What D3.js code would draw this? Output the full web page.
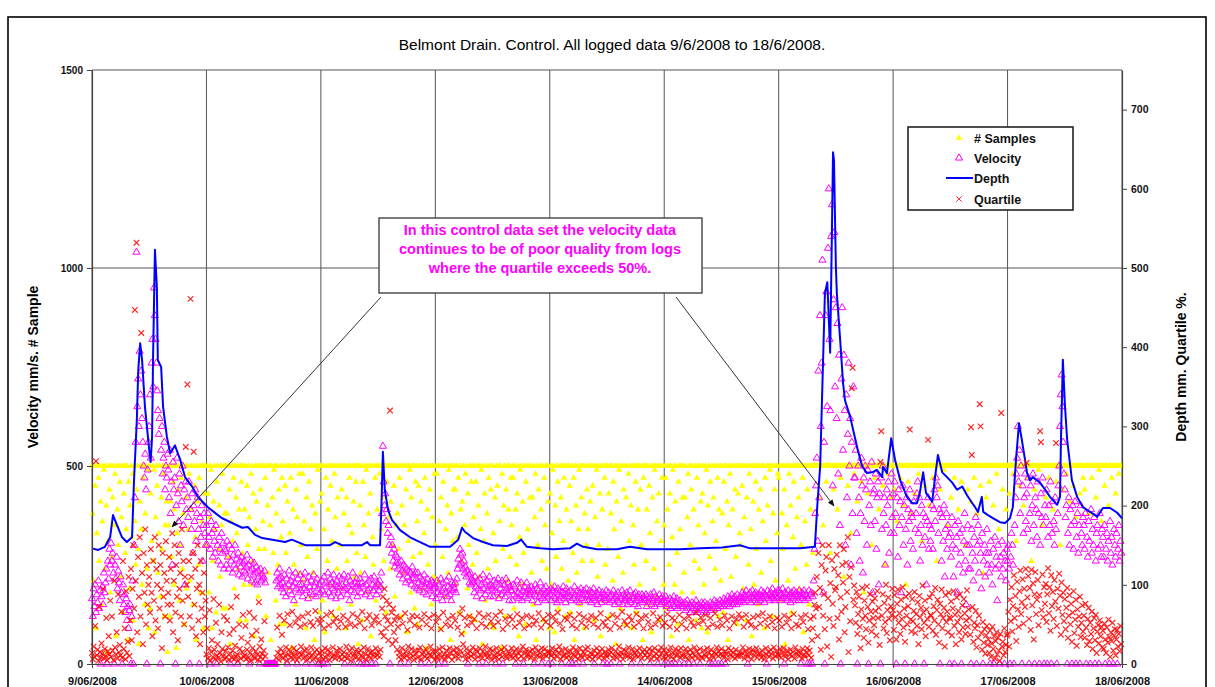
<!DOCTYPE html>
<html>
<head>
<meta charset="utf-8">
<script src="https://cdn.jsdelivr.net/npm/d3@7"></script>
<style>
  html, body { margin: 0; padding: 0; background: #ffffff; }
  svg { display: block; font-family: "Liberation Sans", Arial, sans-serif; }
</style>
</head>
<body>
<svg id="chart" width="1215" height="687"></svg>
<script>
// Logger run: one reading every 10 minutes from 9/6/2008 00:00 to 18/6/2008 00:00
const startTime = new Date(2008, 5, 9, 0, 0);
const endTime = new Date(2008, 5, 18, 0, 0);
const logMinutes = 10;

// Velocity, mm/s (left axis) - 144 logs per day, one row = 4 hours
const velocity = [
  // 9/06
  165,120,190,145,200,130,175,155,210,140,185,0,170,195,150,230,180,205,240,0,260,215,290,250,
  305,260,280,230,0,250,215,270,190,235,205,160,220,180,0,200,150,175,130,165,110,145,90,135,
  150,0,120,210,0,300,420,560,1040,650,720,600,790,680,740,620,560,500,470,530,440,0,490,560,
  600,680,520,760,820,700,950,880,820,760,690,640,580,620,0,540,600,480,520,560,440,500,470,530,
  490,420,540,380,460,250,510,440,470,0,400,520,430,360,480,300,450,410,500,350,440,200,460,390,
  420,370,460,0,390,340,430,280,400,360,440,310,380,420,340,0,370,320,400,260,350,380,330,300,
  // 10/06
  350,300,380,320,0,290,360,330,270,340,310,280,350,0,300,260,320,290,250,330,280,305,240,290,
  285,250,310,270,240,300,0,260,290,230,275,250,300,240,265,0,280,225,260,245,270,220,255,235,
  260,230,245,275,215,250,0,235,260,210,240,225,255,205,230,245,200,235,220,0,240,210,225,215,
  220,235,205,0,0,0,0,0,0,0,0,0,0,0,0,0,210,230,195,215,240,200,220,190,
  205,180,225,195,170,215,0,200,235,185,210,175,220,195,160,205,230,190,0,215,180,200,225,185,
  200,170,215,190,230,0,185,205,165,220,195,180,210,0,175,225,195,205,170,215,190,0,200,180,
  // 11/06
  0,210,185,0,220,175,205,195,0,230,180,200,215,170,205,190,225,185,200,165,210,195,180,220,
  195,170,215,200,185,225,0,190,205,175,220,195,160,210,185,200,230,0,180,205,195,215,170,200,
  190,215,0,180,205,195,0,225,175,200,0,185,210,190,170,215,0,200,185,220,195,0,175,205,
  200,185,210,195,230,380,550,460,400,430,360,390,330,350,300,0,320,280,300,260,290,245,275,255,
  270,240,255,225,0,260,235,215,250,230,245,205,240,220,0,235,210,230,200,245,215,225,195,230,
  215,190,230,205,185,220,0,200,210,180,225,195,205,175,215,190,0,200,185,210,170,205,190,200,
  // 12/06
  195,165,210,180,0,200,175,215,185,160,205,190,0,180,210,170,195,220,175,190,160,205,185,200,
  190,205,180,215,240,265,250,290,275,255,280,240,260,230,245,220,235,0,225,205,230,200,215,210,
  205,180,220,195,170,210,190,0,215,185,200,165,225,190,205,175,0,210,185,195,220,170,200,190,
  195,170,210,185,0,205,180,215,165,200,190,175,210,0,185,200,170,215,190,180,205,160,195,185,
  185,160,200,175,195,0,170,210,180,165,190,175,205,160,185,0,195,170,180,205,165,190,175,185,
  180,195,160,185,0,175,200,170,190,155,185,170,205,180,0,165,190,175,160,195,180,170,0,185,
  // 13/06
  175,190,160,0,185,170,195,165,180,155,190,175,160,185,170,0,180,195,165,175,155,190,170,180,
  0,170,185,160,0,180,165,195,175,0,160,185,170,155,180,190,165,175,0,185,160,175,190,170,
  175,160,185,170,155,180,165,190,0,170,160,180,150,175,185,165,170,155,180,0,165,175,160,185,
  0,165,180,155,170,0,175,160,185,165,150,175,170,160,180,155,0,170,165,185,150,175,160,170,
  165,180,150,170,160,185,155,0,170,165,175,150,180,160,170,145,175,165,0,160,175,155,170,165,
  160,175,145,170,155,165,0,175,150,165,160,180,145,170,155,165,0,160,175,150,165,155,170,160,
  // 14/06
  0,155,170,145,160,0,150,165,140,0,160,150,170,145,0,155,165,140,150,0,160,145,155,150,
  145,0,155,135,150,160,140,0,150,130,145,155,140,0,150,135,160,145,130,150,140,0,145,155,
  140,150,135,155,145,130,150,140,0,145,155,135,0,150,140,160,0,145,155,140,0,150,160,145,
  0,155,145,165,150,0,160,150,170,155,145,165,160,175,150,165,155,170,160,150,175,160,165,155,
  170,160,180,165,155,175,170,185,160,0,175,165,180,155,170,185,165,175,160,180,170,155,175,165,
  175,160,185,170,165,180,155,175,170,0,185,165,175,160,180,170,190,165,175,160,180,170,165,185,
  // 15/06
  170,185,160,175,165,190,170,0,180,165,175,160,185,170,175,155,180,170,165,185,175,160,180,170,
  175,160,185,170,0,180,165,175,185,160,175,170,0,165,185,0,175,180,0,170,210,290,380,450,
  520,310,740,420,880,600,760,1020,180,560,0,880,940,650,1050,1200,820,640,1080,1160,450,920,1090,700,
  900,620,860,480,780,350,0,720,900,540,780,640,300,680,420,580,760,500,620,250,560,380,700,470,
  470,540,330,0,500,420,260,380,520,450,230,470,360,500,440,300,490,0,400,460,350,510,180,430,
  440,360,480,290,420,460,200,430,0,470,340,500,380,420,250,350,440,400,460,280,420,330,480,370,
  // 16/06
  430,330,460,380,0,420,270,440,350,410,180,370,450,300,400,0,340,420,250,390,360,440,310,380,
  370,290,410,0,340,380,430,460,330,420,260,350,400,300,380,0,320,370,200,360,420,290,350,310,
  340,400,290,390,440,360,470,420,450,330,390,0,380,260,370,310,400,220,340,380,290,350,320,0,
  330,270,370,300,220,0,350,290,320,180,360,250,330,280,0,340,230,310,380,260,150,300,350,240,
  300,240,0,340,280,210,320,260,370,0,300,350,230,310,280,190,330,0,260,300,220,280,340,250,
  280,230,0,310,250,200,290,0,320,240,270,160,300,250,0,270,220,310,240,280,0,260,210,290,
  // 17/06
  260,300,240,0,270,330,300,250,0,350,420,480,520,600,460,540,380,500,0,450,330,420,480,360,
  430,340,470,0,380,450,310,400,480,350,0,420,390,320,460,380,0,300,430,370,470,350,0,400,
  370,440,0,320,400,350,460,0,330,410,360,300,420,340,0,380,450,500,600,680,730,650,560,480,
  440,370,400,0,330,420,300,390,350,0,400,290,360,410,0,320,380,280,350,0,400,330,300,370,
  350,290,380,0,320,270,360,310,0,390,280,340,300,370,0,260,330,350,290,0,380,300,270,340,
  320,270,350,0,290,330,260,310,0,360,280,320,250,0,340,300,270,330,0,290,350,260,310,280
];

// Quartile spread, % (right axis) - null where the log holds no reading
const quartile = [
  // 9/06
  14,6,22,9,48,256,11,18,4,72,15,8,26,13,95,7,19,10,58,5,16,35,12,80,
  9,60,17,5,105,21,12,40,7,88,15,24,11,66,8,130,19,45,6,92,14,28,110,10,
  55,120,30,95,150,70,447,105,532,40,135,85,160,60,418,115,25,140,90,170,50,125,75,100,
  110,65,145,90,35,130,80,160,55,120,100,45,150,70,125,95,20,140,85,115,60,155,105,75,
  90,135,55,120,75,165,40,105,150,65,125,85,30,140,95,115,60,170,80,130,50,110,274,100,
  353,85,130,60,461,110,45,140,268,75,120,35,95,150,55,100,25,130,70,90,40,115,60,80,
  // 10/06
  12,45,7,20,68,4,15,30,9,82,18,6,52,11,25,8,75,14,3,40,19,10,60,6,
  16,9,55,21,5,38,13,72,8,17,44,6,23,10,85,12,4,50,19,7,33,15,62,9,
  11,48,6,18,27,8,65,14,4,36,20,10,58,7,16,42,12,5,78,22,9,31,13,6,
  17,54,10,null,null,null,null,null,null,null,null,null,null,null,null,null,8,46,14,5,61,19,11,37,
  7,15,55,10,21,4,63,12,18,49,8,13,66,6,20,11,52,16,5,58,9,14,47,22,
  12,60,7,17,50,10,19,5,64,13,8,53,21,11,48,6,15,67,9,18,56,4,14,51,
  // 11/06
  10,57,16,6,45,20,8,62,12,18,49,5,14,65,9,21,53,11,7,58,17,13,46,8,
  19,54,6,12,61,15,9,47,22,7,56,11,16,50,4,20,63,10,13,48,8,18,59,14,
  6,52,17,11,66,8,21,45,13,5,57,19,10,62,14,7,49,16,12,55,9,20,60,11,
  15,52,9,18,40,70,85,35,95,60,45,80,55,30,75,320,50,65,25,70,40,55,30,60,
  18,47,9,14,58,6,20,51,12,8,64,16,11,43,22,7,55,13,19,61,10,5,49,17,
  13,60,8,17,46,21,6,56,12,15,63,9,19,50,7,14,58,11,22,45,10,16,62,5,
  // 12/06
  16,53,10,7,59,19,13,44,8,21,65,12,6,50,17,11,57,9,20,48,14,5,61,18,
  9,55,14,20,46,7,12,63,17,38,70,25,11,58,6,19,49,13,8,60,16,10,52,21,
  12,57,6,18,45,15,9,64,20,11,51,7,16,59,13,22,47,8,14,62,10,19,54,5,
  17,48,11,8,61,20,14,53,6,12,66,18,9,44,15,21,57,10,7,50,16,13,60,9,
  20,56,8,15,47,11,19,63,6,13,52,17,10,58,22,7,45,14,18,61,9,12,49,16,
  8,59,18,13,50,6,21,55,11,16,64,9,14,46,20,7,57,12,19,53,10,15,62,13,
  // 13/06
  15,48,11,20,60,7,13,54,18,9,65,14,22,51,6,17,44,10,12,58,19,8,56,15,
  10,62,16,7,49,21,12,57,9,18,45,14,6,63,20,11,52,8,15,59,13,19,47,7,
  21,55,9,14,61,12,6,50,17,10,58,20,13,46,8,16,64,11,19,53,7,15,48,12,
  9,57,18,12,44,15,20,62,7,11,51,16,8,59,13,22,46,10,14,66,6,18,54,11,
  16,49,10,21,60,8,13,55,19,6,47,14,11,63,17,9,52,20,12,58,7,15,45,18,
  11,61,15,8,53,19,12,46,6,17,64,10,20,50,13,7,56,16,9,59,21,14,48,8,
  // 14/06
  18,52,7,13,63,10,16,47,21,9,58,14,6,55,19,11,44,12,17,62,8,20,50,10,
  13,57,9,19,45,15,6,60,11,18,53,8,14,48,21,10,65,16,7,51,12,19,59,9,
  7,54,17,12,62,9,20,46,14,6,58,18,11,50,8,15,64,13,21,47,10,16,56,12,
  19,49,11,8,61,16,13,55,6,20,45,12,17,60,9,14,52,7,18,57,11,10,63,15,
  10,58,14,21,47,7,16,62,12,9,54,19,13,49,6,18,59,11,15,46,20,8,61,13,
  14,51,8,17,64,11,6,56,20,12,48,15,9,60,18,13,53,7,21,45,10,16,58,12,
  // 15/06
  11,55,19,8,47,14,20,61,9,13,52,17,6,58,12,18,45,10,15,63,7,21,50,13,
  16,48,10,14,59,7,19,53,12,9,62,15,20,44,11,17,57,8,30,45,60,75,90,70,
  110,35,140,72,96,18,125,150,61,88,44,118,135,22,83,150,57,102,9,131,76,48,120,93,
  97,138,58,112,31,150,84,66,125,103,145,40,72,128,91,160,15,110,54,122,348,374,81,99,
  74,52,91,38,63,85,47,20,69,96,57,33,80,61,44,98,72,27,55,88,66,41,79,58,
  49,83,67,36,92,58,71,24,255,294,61,88,45,77,53,100,39,68,84,57,30,73,62,95,
  // 16/06
  68,43,87,59,31,76,94,52,64,38,81,57,97,46,70,28,85,61,50,73,89,296,56,41,
  82,54,67,91,39,63,48,78,25,86,59,71,44,99,65,52,80,35,69,57,283,47,84,62,
  61,89,42,73,55,96,37,68,81,50,27,76,63,94,45,58,71,22,87,53,66,40,90,59,
  57,79,36,70,92,48,62,25,84,53,67,40,88,59,31,74,46,82,64,38,55,93,47,69,
  58,37,299,264,72,28,52,45,67,21,49,33,61,328,300,39,18,53,27,44,13,36,48,24,
  31,14,42,9,26,47,19,35,7,29,40,12,33,17,4,38,317,22,28,11,45,15,24,36,
  // 17/06
  38,66,22,81,54,97,41,73,112,58,86,29,104,69,47,92,118,63,78,107,51,95,72,120,
  254,84,111,57,96,43,119,74,102,31,88,116,63,81,106,49,87,294,280,68,113,59,97,76,
  101,53,88,121,64,97,42,112,73,91,57,106,79,279,48,95,70,114,86,37,103,62,90,54,
  82,44,71,96,33,61,87,50,76,28,65,92,39,56,81,23,69,47,60,85,34,52,74,41,
  61,33,76,46,24,57,71,29,52,38,66,19,45,58,30,62,14,41,49,26,55,35,47,21,
  42,19,51,31,14,46,27,56,34,9,40,29,52,17,36,44,11,31,43,22,38,16,48,25
];

// Number of samples per log (left axis, capped at 500)
const samples = [
  // 9/06
  500,380,210,500,450,90,330,500,470,260,500,410,150,360,500,490,240,500,400,30,310,500,440,180,
  500,270,420,500,350,480,70,500,390,300,500,460,220,370,500,130,430,500,280,340,500,60,460,190,
  400,500,320,480,110,500,360,250,440,500,290,50,410,500,340,200,470,500,150,380,500,240,490,90,
  500,140,430,310,500,260,490,80,370,500,450,230,330,500,170,420,290,500,480,120,350,500,410,30,
  350,500,120,410,270,500,460,200,390,500,40,330,440,500,160,300,470,500,240,380,100,500,420,190,
  500,340,480,210,500,390,280,150,500,450,320,60,500,410,250,470,500,180,360,500,90,430,500,300,
  // 10/06
  300,500,430,180,370,500,490,90,260,410,500,340,130,460,500,290,400,220,500,350,480,140,500,380,
  500,140,380,500,270,440,50,360,500,310,470,190,500,420,330,500,240,390,110,500,460,280,500,200,
  390,500,110,450,300,500,370,200,480,500,260,430,70,500,340,410,500,170,290,500,440,230,500,360,
  500,290,470,120,500,400,230,500,350,60,500,420,280,490,500,160,380,500,250,440,100,500,320,470,
  360,500,100,450,280,500,410,190,500,330,470,40,500,390,250,500,150,440,370,500,230,480,500,300,
  500,480,210,360,500,90,420,270,500,460,170,340,500,400,230,500,60,380,500,290,490,500,130,410,
  // 11/06
  500,430,160,500,340,80,470,500,260,390,500,200,450,500,310,120,500,480,370,500,240,420,500,140,
  300,500,440,190,500,380,500,90,420,260,500,350,470,500,150,330,500,410,220,500,460,280,500,50,
  500,400,230,500,110,460,350,500,270,490,500,180,380,500,430,70,500,320,250,500,470,160,500,390,
  500,200,480,500,340,500,420,260,500,500,130,460,500,370,500,240,410,500,300,500,450,170,500,350,
  380,500,290,470,500,120,400,500,230,350,500,440,80,500,310,500,490,180,420,500,270,500,140,460,
  500,360,100,450,500,280,410,500,190,500,330,470,500,40,390,250,500,440,500,150,370,500,220,480,
  // 12/06
  300,500,480,210,500,360,90,420,500,270,460,500,170,340,500,400,230,490,500,60,380,500,310,440,
  500,440,200,500,320,470,130,500,390,260,410,500,80,350,480,500,190,430,300,500,120,460,500,250,
  370,500,110,460,280,500,400,220,500,340,490,50,500,310,430,160,500,380,240,470,500,100,440,500,
  500,330,90,420,260,500,450,170,500,360,500,40,480,290,400,500,120,440,210,500,390,500,270,470,
  350,500,470,140,500,390,250,430,500,70,320,490,500,200,410,280,500,100,460,500,340,500,180,420,
  500,230,420,150,500,370,480,60,500,300,440,180,500,390,260,500,110,470,350,500,240,500,410,90,
  // 13/06
  430,500,200,330,490,500,80,400,270,500,460,140,360,500,420,240,500,310,470,500,120,390,500,210,
  500,450,130,360,500,280,470,60,500,400,230,500,340,490,150,500,420,260,500,90,380,500,300,440,
  340,500,180,410,500,260,450,500,110,370,500,490,220,500,300,430,70,500,390,160,500,470,250,500,
  500,290,430,120,500,380,500,210,460,340,500,50,410,500,270,490,500,140,360,500,230,440,500,100,
  420,500,170,480,310,500,400,90,500,350,250,500,460,130,500,390,500,200,440,300,500,60,470,500,
  500,260,390,500,150,450,330,500,80,420,500,240,490,500,170,360,500,430,110,500,310,470,500,200,
  // 14/06
  350,500,470,140,390,500,250,430,500,70,320,490,500,200,410,500,280,100,460,500,340,500,180,420,
  500,230,420,500,150,370,480,60,500,300,440,500,180,390,260,500,110,470,500,350,240,500,410,90,
  430,500,200,330,500,490,80,400,500,270,460,140,500,360,420,500,240,310,500,470,120,390,500,210,
  500,380,130,460,500,290,500,410,60,350,500,480,220,500,390,160,500,440,270,500,100,430,500,330,
  300,500,450,190,500,370,500,110,420,500,250,480,500,340,70,500,410,200,500,460,290,500,150,390,
  500,440,230,500,360,500,90,470,310,500,400,170,500,490,260,500,120,380,500,440,210,500,330,480,
  // 15/06
  470,500,160,500,380,290,500,440,50,500,350,500,210,480,500,400,130,500,320,460,500,240,500,370,
  500,420,190,500,300,500,470,80,500,360,500,250,440,500,150,500,390,500,500,280,500,500,500,500,
  500,500,500,420,500,500,500,500,350,500,500,500,460,500,500,500,500,280,500,500,500,440,500,500,
  500,500,390,500,500,500,470,500,500,500,220,500,500,500,500,450,500,500,500,330,500,500,500,480,
  500,500,500,410,500,500,500,500,460,500,500,180,500,500,500,500,430,500,500,500,500,300,500,500,
  500,470,500,500,500,500,390,500,500,500,500,450,500,500,250,500,500,500,480,500,500,500,420,500,
  // 16/06
  500,500,440,500,500,360,500,500,500,470,500,500,500,400,500,500,200,500,500,460,500,500,500,380,
  500,500,500,430,500,500,500,500,480,500,500,500,310,500,500,500,450,500,500,500,500,400,500,500,
  500,500,470,500,500,500,500,260,500,500,500,440,500,500,500,500,490,500,500,500,350,500,500,500,
  500,420,500,500,500,470,500,500,500,500,390,500,500,500,460,500,500,500,500,300,500,500,440,500,
  500,500,410,500,500,500,470,500,500,380,500,500,500,500,450,500,500,230,500,500,500,420,500,500,
  500,460,500,500,500,500,400,500,500,500,480,500,500,340,500,500,500,500,440,500,500,500,390,500,
  // 17/06
  500,500,430,500,500,500,500,480,500,500,500,310,500,500,500,450,500,500,500,500,400,500,500,500,
  500,470,500,500,500,500,260,500,500,500,440,500,500,500,500,490,500,500,500,350,500,500,500,500,
  420,500,500,500,470,500,500,500,500,390,500,500,500,460,500,500,500,500,300,500,500,440,500,500,
  500,500,480,500,500,500,410,500,500,500,500,450,500,500,370,500,500,500,500,430,500,500,500,470,
  500,440,500,500,500,500,380,500,500,500,470,500,500,500,500,420,500,500,500,490,500,500,360,500,
  500,500,450,500,500,500,500,400,500,500,500,470,500,500,500,500,430,500,500,500,480,500,500,500
];

// Depth trace: hours after 9/6/2008 00:00 and depth in mm (right axis)
const depthHours = [
  0,1.3,2.7,3.8,4.4,5.2,6.3,7.3,8.4,8.8,
  9.4,9.7,10.1,10.5,11.1,12.0,12.3,12.6,12.8,13.2,
  13.6,13.8,14.5,14.9,15.7,16.4,17.4,18.0,18.5,19.5,
  21.0,22.2,24.3,26.4,27.3,29.4,31.5,32.7,34.2,35.7,
  37.8,40.5,41.9,44.7,47.4,49.9,51.0,52.4,56.6,57.7,
  58.3,60.4,60.7,61.0,61.4,62.1,62.9,64.6,66.7,68.8,
  70.9,75.1,76.8,77.6,78.2,79.9,82.0,84.1,87.0,89.1,
  90.0,91.2,94.0,96.7,100.2,101.7,103.0,105.9,110.1,112.8,
  113.9,116.4,123.3,127.5,132.1,135.9,138.0,144.1,148.5,151.6,
  152.1,152.7,153.7,154.2,154.8,155.2,155.4,155.6,156.0,156.2,
  156.9,157.5,157.9,159.0,159.6,160.6,161.5,162.5,163.6,164.6,
  165.7,165.9,166.7,167.6,168.4,169.5,170.9,172.0,173.0,173.6,
  174.3,174.9,176.2,176.8,177.4,178.3,179.3,180.4,181.4,182.5,
  183.5,184.6,185.2,185.8,186.6,186.9,187.9,189.0,190.4,191.5,
  192.5,193.1,193.8,194.4,195.0,196.1,196.7,197.3,198.8,199.9,
  200.9,202.4,203.0,203.2,203.6,204.0,204.5,205.5,206.6,207.8,
  209.3,210.8,212.0,213.5,215.0,216.0
];
const depthMm = [
  146,144,148,160,188,176,160,154,160,230,
  308,371,405,384,325,270,255,287,384,523,
  476,384,375,325,287,266,276,266,258,236,
  224,211,198,188,184,178,172,173,163,159,
  157,154,157,150,150,150,154,150,150,154,
  150,150,200,268,220,194,182,169,160,154,
  148,148,157,172,167,159,154,150,149,153,
  157,148,146,145,146,152,148,145,145,148,
  147,145,145,146,147,150,146,146,146,148,
  200,249,468,482,393,560,646,636,501,468,
  409,355,333,312,296,270,250,241,242,245,
  236,249,241,285,258,232,211,203,203,216,
  242,216,205,236,264,242,236,229,220,224,
  213,203,198,192,211,192,188,184,179,178,
  184,198,260,304,283,241,232,236,229,220,
  211,201,211,283,384,330,283,232,211,198,
  192,186,197,197,191,184
];

// Axis ticks and text
const leftTicks = [0, 500, 1000, 1500];
const rightTicks = [0, 100, 200, 300, 400, 500, 600, 700];
const chartTitle = "Belmont Drain. Control. All logged data 9/6/2008 to 18/6/2008.";
const leftTitle = "Velocity mm/s. # Sample";
const rightTitle = "Depth mm. Quartile %.";
const legendLabels = ["# Samples", "Velocity", "Depth", "Quartile"];
const noteLines = [
  "In this control data set the velocity data",
  "continues to be of poor quality from logs",
  "where the quartile exceeds 50%."
];

// ---- drawing ----
const svg = d3.select("#chart");
const plot = { left: 92, right: 1122, top: 70, bottom: 664 };

const x = d3.scaleTime().domain([startTime, endTime]).range([plot.left, plot.right]);
const yL = d3.scaleLinear().domain([0, 1500]).range([plot.bottom, plot.top]);
const yR = d3.scaleLinear().domain([0, 750]).range([plot.bottom, plot.top]);
const logTime = i => new Date(startTime.getTime() + i * logMinutes * 60000);
const hourTime = h => new Date(startTime.getTime() + h * 3600000);

// outer frame
svg.append("rect").attr("x", 8).attr("y", 17).attr("width", 1198).attr("height", 700)
  .attr("fill", "#ffffff").attr("stroke", "#000").attr("stroke-width", 1.6);

// title
svg.append("text").attr("x", 612).attr("y", 50).attr("text-anchor", "middle")
  .attr("font-size", 15.5).attr("fill", "#000").text(chartTitle);

// gridlines
const days = d3.timeDay.range(startTime, d3.timeDay.offset(endTime, 1));
const grid = svg.append("g").attr("stroke", "#555").attr("stroke-width", 1);
grid.selectAll("line.v").data(days).join("line")
  .attr("x1", d => x(d)).attr("x2", d => x(d))
  .attr("y1", plot.top).attr("y2", plot.bottom);
grid.selectAll("line.h").data(leftTicks.filter(v => v > 0)).join("line")
  .attr("x1", plot.left).attr("x2", plot.right)
  .attr("y1", d => yL(d)).attr("y2", d => yL(d));

// # Samples: small filled yellow triangles
const triSmall = d3.symbol(d3.symbolTriangle, 18)();
svg.append("g").selectAll("path").data(samples).join("path")
  .attr("d", triSmall)
  .attr("transform", (d, i) => `translate(${x(logTime(i))},${yL(d)})`)
  .attr("fill", "#ffff00");

// Velocity: open magenta triangles
const triOpen = d3.symbol(d3.symbolTriangle, 22)();
svg.append("g").selectAll("path").data(velocity).join("path")
  .attr("d", triOpen)
  .attr("transform", (d, i) => `translate(${x(logTime(i))},${yL(d)})`)
  .attr("fill", "none").attr("stroke", "#ff00ff").attr("stroke-width", 1);

// Depth line
const depthPts = depthHours.map((h, i) => [hourTime(h), depthMm[i]]);
svg.append("path").datum(depthPts)
  .attr("d", d3.line().x(d => x(d[0])).y(d => yR(d[1])))
  .attr("fill", "none").attr("stroke", "#0000ff").attr("stroke-width", 2)
  .attr("stroke-linejoin", "round");

// Quartile: red crosses
const cross = "M-2.8,-2.8L2.8,2.8M-2.8,2.8L2.8,-2.8";
svg.append("g").selectAll("path")
  .data(quartile.map((q, i) => ({ q, i })).filter(d => d.q !== null)).join("path")
  .attr("d", cross)
  .attr("transform", d => `translate(${x(logTime(d.i))},${yR(d.q)})`)
  .attr("fill", "none").attr("stroke", "#ff0000").attr("stroke-width", 1.2)
  .attr("stroke-opacity", 0.85);

// axes
function styleAxis(g) {
  g.select(".domain").attr("stroke", "#444").attr("stroke-width", 1.2);
  g.selectAll(".tick line").attr("stroke", "#444");
  g.selectAll(".tick text").attr("fill", "#111").attr("font-weight", "bold")
    .attr("font-family", "'Liberation Sans', Arial, sans-serif");
}
svg.append("g").attr("transform", `translate(${plot.left},0)`)
  .call(d3.axisLeft(yL).tickValues(leftTicks).tickFormat(d3.format("d"))
    .tickSize(5).tickPadding(4).tickSizeOuter(0))
  .attr("font-size", 10).call(styleAxis);
svg.append("g").attr("transform", `translate(${plot.right},0)`)
  .call(d3.axisRight(yR).tickValues(rightTicks).tickFormat(d3.format("d"))
    .tickSize(5).tickPadding(4).tickSizeOuter(0))
  .attr("font-size", 10.5).call(styleAxis);
svg.append("g").attr("transform", `translate(0,${plot.bottom})`)
  .call(d3.axisBottom(x).tickValues(days).tickFormat(d3.timeFormat("%-d/%m/%Y"))
    .tickSize(4).tickPadding(9).tickSizeOuter(0))
  .attr("font-size", 11).call(styleAxis);

// axis titles
svg.append("text").attr("transform", "translate(33,367) rotate(-90)")
  .attr("text-anchor", "middle").attr("dy", "0.35em")
  .attr("font-size", 14).attr("font-weight", "bold").text(leftTitle);
svg.append("text").attr("transform", "translate(1181,367) rotate(-90)")
  .attr("text-anchor", "middle").attr("dy", "0.35em")
  .attr("font-size", 14).attr("font-weight", "bold").text(rightTitle);

// legend
const lg = svg.append("g");
lg.append("rect").attr("x", 908).attr("y", 127).attr("width", 165).attr("height", 83)
  .attr("fill", "#fff").attr("stroke", "#222").attr("stroke-width", 1.6);
const rowY = [138, 158, 178, 199];
lg.append("path").attr("d", triSmall).attr("transform", `translate(959,${rowY[0]})`).attr("fill", "#ffff00");
lg.append("path").attr("d", triOpen).attr("transform", `translate(959,${rowY[1]})`)
  .attr("fill", "none").attr("stroke", "#ff00ff");
lg.append("line").attr("x1", 946).attr("x2", 973).attr("y1", rowY[2]).attr("y2", rowY[2])
  .attr("stroke", "#0000ff").attr("stroke-width", 2);
lg.append("path").attr("d", cross).attr("transform", `translate(959,${rowY[3]})`)
  .attr("stroke", "#ff0000").attr("stroke-opacity", 0.8).attr("fill", "none");
lg.selectAll("text").data(legendLabels).join("text")
  .attr("x", 974).attr("y", (d, i) => rowY[i] + 4.5)
  .attr("font-size", 12.5).attr("font-weight", "bold").attr("fill", "#111").text(d => d);

// callout note with pointer lines
const defs = svg.append("defs");
defs.append("marker").attr("id", "arrow").attr("viewBox", "0 0 10 10")
  .attr("refX", 9).attr("refY", 5).attr("markerWidth", 7).attr("markerHeight", 7)
  .attr("orient", "auto")
  .append("path").attr("d", "M0,1L10,5L0,9Z").attr("fill", "#111");
svg.append("line").attr("x1", 381).attr("y1", 297).attr("x2", 172).attr("y2", 527)
  .attr("stroke", "#333").attr("stroke-width", 1).attr("marker-end", "url(#arrow)");
svg.append("line").attr("x1", 676).attr("y1", 297).attr("x2", 834).attr("y2", 506)
  .attr("stroke", "#333").attr("stroke-width", 1).attr("marker-end", "url(#arrow)");
svg.append("rect").attr("x", 379).attr("y", 218).attr("width", 323).attr("height", 75)
  .attr("fill", "#fff").attr("stroke", "#444").attr("stroke-width", 1.4);
svg.append("g").selectAll("text").data(noteLines).join("text")
  .attr("x", 540).attr("y", (d, i) => 235 + i * 19)
  .attr("text-anchor", "middle").attr("font-size", 14.5).attr("font-weight", "bold")
  .attr("fill", "#ff00ff").text(d => d);
</script>
</body>
</html>
